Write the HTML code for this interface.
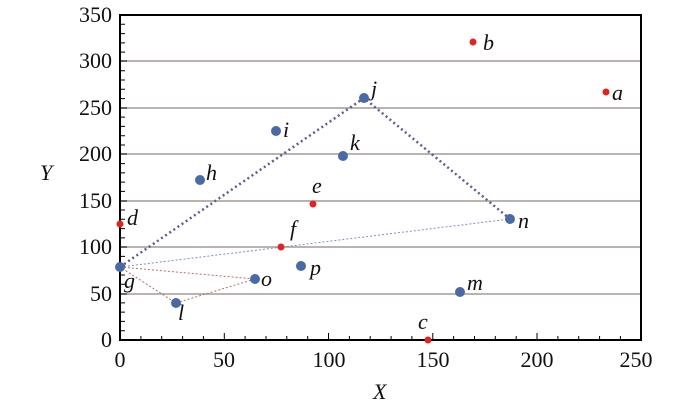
<!DOCTYPE html>
<html><head><style>body{margin:0;background:#fff}svg{display:block}text{font-family:"Liberation Serif","Times New Roman",Times,"DejaVu Serif",serif}</style></head><body>
<svg width="700" height="409" xmlns="http://www.w3.org/2000/svg" font-family="'Liberation Serif', 'Times New Roman', 'DejaVu Serif', serif">
<g stroke="#a39a98" stroke-width="1.5">
<line x1="120" x2="641" y1="61" y2="61"/><line x1="120" x2="641" y1="108" y2="108"/>
<line x1="120" x2="641" y1="154" y2="154"/><line x1="120" x2="641" y1="201" y2="201"/>
<line x1="120" x2="641" y1="247" y2="247"/><line x1="120" x2="641" y1="294" y2="294"/>
</g>
<g stroke="#000" stroke-width="1">
<path d="M120 330.7h5M120 321.4h5M120 312.1h5M120 302.9h5M120 284.3h5M120 275h5M120 265.7h5M120 256.4h5M120 237.9h5M120 228.6h5M120 219.3h5M120 210h5M120 191.4h5M120 182.1h5M120 172.9h5M120 163.6h5M120 145h5M120 135.7h5M120 126.4h5M120 117.1h5M120 98.6h5M120 89.3h5M120 80h5M120 70.7h5M120 52.1h5M120 42.9h5M120 33.6h5M120 24.3h5"/>
<path d="M140.9 340v-4M161.7 340v-4M182.6 340v-4M203.4 340v-4M245.1 340v-4M266 340v-4M286.8 340v-4M307.7 340v-4M349.4 340v-4M370.2 340v-4M391.1 340v-4M411.9 340v-4M453.6 340v-4M474.5 340v-4M495.3 340v-4M516.2 340v-4M557.9 340v-4M578.7 340v-4M599.6 340v-4M620.4 340v-4"/>
<path d="M224.3 340v-7M328.5 340v-7M432.8 340v-7M537 340v-7M120 294h7M120 247h7M120 201h7M120 154h7M120 108h7M120 61h7"/>
</g>
<rect x="120" y="15" width="521" height="325" fill="none" stroke="#000" stroke-width="2"/>
<g stroke="#5a5f8a" stroke-width="2.5" stroke-dasharray="2 3" fill="none">
<polyline points="120,267 364,98 510,219"/></g>
<g stroke="#7f8fc0" stroke-width="1" stroke-dasharray="2 2" fill="none"><line x1="120" y1="267" x2="510" y2="219"/></g>
<g stroke="#b07070" stroke-width="1" stroke-dasharray="2 2" fill="none"><polyline points="120,267 255,279 176,303 120,267"/></g>
<g fill="#e02323"><circle cx="606" cy="92" r="3.5"/><circle cx="473" cy="42" r="3.5"/><circle cx="428" cy="340" r="3.5"/><circle cx="120" cy="224" r="3.5"/><circle cx="313" cy="204" r="3.5"/><circle cx="281" cy="247" r="3.5"/></g>
<g fill="#4a6aa5"><circle cx="120" cy="267" r="5"/><circle cx="200" cy="180" r="5"/><circle cx="276" cy="131" r="5"/><circle cx="364" cy="98" r="5"/><circle cx="343" cy="156" r="5"/><circle cx="176" cy="303" r="5"/><circle cx="460" cy="292" r="5"/><circle cx="510" cy="219" r="5"/><circle cx="255" cy="279" r="5"/><circle cx="301" cy="266" r="5"/></g>
<g font-size="22" font-style="italic" fill="#111">
<text x="612" y="100">a</text><text x="483" y="50">b</text><text x="418" y="329">c</text><text x="127" y="225">d</text><text x="312" y="193">e</text><text x="290" y="236">f</text><text x="124" y="288">g</text><text x="206" y="180">h</text><text x="283" y="137">i</text><text x="371" y="96">j</text><text x="350" y="150">k</text><text x="178" y="320">l</text><text x="467" y="290">m</text><text x="518" y="228">n</text><text x="261" y="286">o</text><text x="310" y="275">p</text>
<text x="373" y="399">X</text><text x="40" y="180">Y</text></g>
<g font-size="22" fill="#111" text-anchor="end">
<text x="112" y="347">0</text><text x="112" y="301">50</text><text x="112" y="254">100</text><text x="112" y="208">150</text><text x="112" y="161">200</text><text x="112" y="115">250</text><text x="112" y="68">300</text><text x="112" y="22">350</text></g>
<g font-size="22" fill="#111" text-anchor="middle">
<text x="120" y="367">0</text><text x="224" y="367">50</text><text x="329" y="367">100</text><text x="433" y="367">150</text><text x="537" y="367">200</text><text x="636" y="367">250</text></g>
</svg>
</body></html>
